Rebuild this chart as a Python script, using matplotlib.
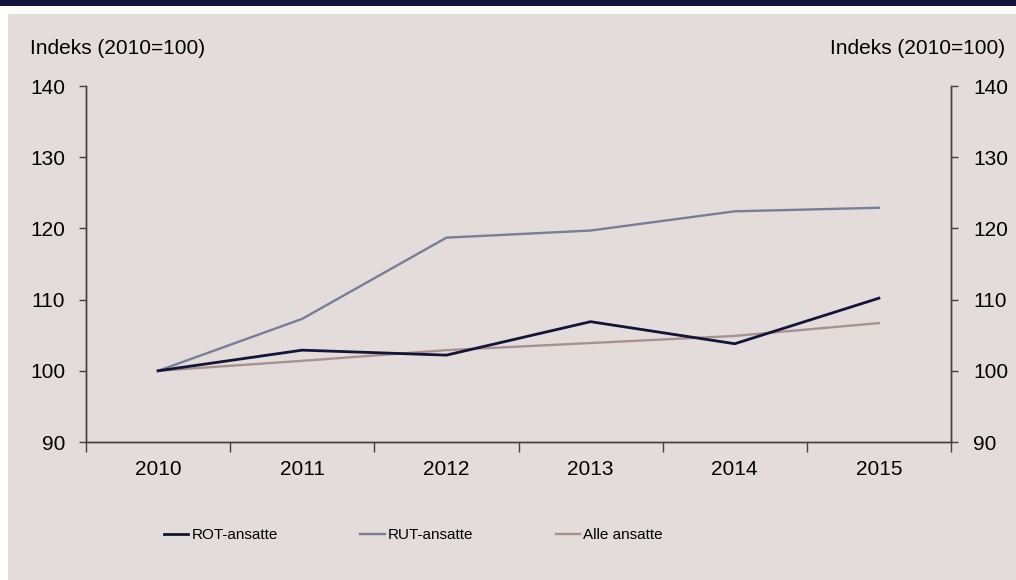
import matplotlib
matplotlib.use('Agg')
import matplotlib.pyplot as plt
from matplotlib.patches import Rectangle

### Data

years = ['2010', '2011', '2012', '2013', '2014', '2015']
rot = [100.0, 102.9, 102.2, 106.9, 103.8, 110.2]
rut = [100.0, 107.3, 118.7, 119.7, 122.4, 122.9]
alle = [100.0, 101.4, 102.9, 103.9, 104.9, 106.7]
yticks = [90, 100, 110, 120, 130, 140]

### Style

plt.rcParams['font.family'] = ['Liberation Sans', 'DejaVu Sans']
bg = '#e3dcdb'
navy = '#14143c'
fs = 15

fig = plt.figure(figsize=(10.16, 5.8), dpi=100)
fig.patch.set_facecolor('white')
W, H = 1016., 580.
fig.patches.append(Rectangle((8 / W, 0), 1 - 8 / W, 1 - 14 / H, transform=fig.transFigure,
                             facecolor=bg, edgecolor='none', zorder=-10))
fig.patches.append(Rectangle((0, 1 - 6 / H), 1, 6 / H, transform=fig.transFigure,
                             facecolor=navy, edgecolor='none', zorder=-10))

ax = fig.add_axes([86 / W, 1 - 442 / H, (951 - 86) / W, (442 - 86) / H])
ax.set_facecolor('none')
x = list(range(len(years)))
ax.plot(x, rot, color='#141338', lw=2.0, label='ROT-ansatte', zorder=4)
ax.plot(x, rut, color='#7a7d98', lw=1.7, label='RUT-ansatte', zorder=3)
ax.plot(x, alle, color='#a89291', lw=1.7, label='Alle ansatte', zorder=2)

ax.set_xlim(-0.5, len(years) - 0.5)
ax.set_ylim(90, 140)
ax.set_yticks(yticks)
ax.set_xticks([i - 0.5 for i in range(len(years) + 1)])
ax.set_xticklabels([])
ax.set_xticks(x, minor=True)
ax.set_xticklabels(years, minor=True)
ax.tick_params(axis='x', which='major', length=7, width=1, color='#404040', direction='out')
ax.tick_params(axis='x', which='minor', length=0, pad=13, labelsize=fs)
ax.tick_params(axis='y', length=5, width=1, color='#404040', pad=10, labelsize=fs)

ax2 = ax.twinx()
ax2.set_ylim(90, 140)
ax2.set_yticks(yticks)
ax2.tick_params(axis='y', length=5, width=1, color='#404040', pad=11, labelsize=fs)

for a in (ax, ax2):
    a.spines['top'].set_visible(False)
    for s in ('left', 'right', 'bottom'):
        a.spines[s].set_color('#404040')
        a.spines[s].set_linewidth(1)

fig.text(30 / W, 1 - 48 / H, 'Indeks (2010=100)', fontsize=fs, ha='left', va='center')
fig.text(1005 / W, 1 - 48 / H, 'Indeks (2010=100)', fontsize=fs, ha='right', va='center')

fig.legend(loc='center left', bbox_to_anchor=(164 / W, 1 - 535 / H), ncol=3, frameon=False,
           prop={'size': 11}, handlelength=1.6, handletextpad=0.2, columnspacing=5.4,
           borderpad=0, borderaxespad=0)

fig.savefig('out.png', dpi=100, facecolor=fig.get_facecolor())
